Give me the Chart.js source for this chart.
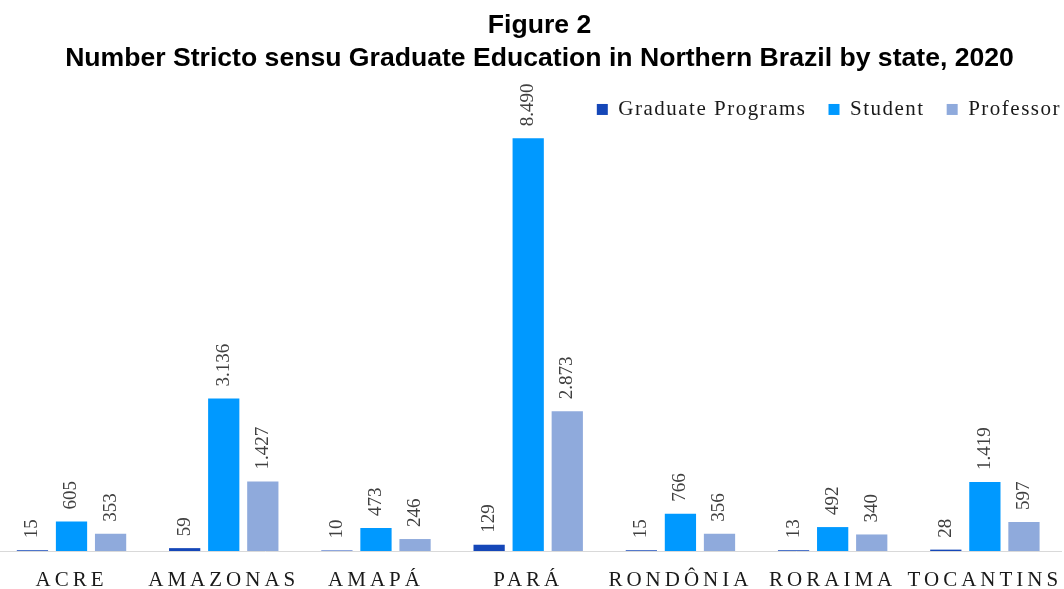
<!DOCTYPE html>
<html>
<head>
<meta charset="utf-8">
<script src="https://cdn.jsdelivr.net/npm/chart.js@4/dist/chart.umd.min.js"></script>
<style>
html,body{margin:0;padding:0;background:#fff;}
#wrap{width:1064px;height:589px;position:relative;}
</style>
</head>
<body>
<div id="wrap"><canvas id="c" width="1064" height="589"></canvas></div>
<script>
const categories = ['ACRE','AMAZONAS','AMAPÁ','PARÁ','RONDÔNIA','RORAIMA','TOCANTINS'];
const graduatePrograms = [15, 59, 10, 129, 15, 13, 28];
const students = [605, 3136, 473, 8490, 766, 492, 1419];
const professors = [353, 1427, 246, 2873, 356, 340, 597];
const seriesNames = ['Graduate Programs','Student','Professor'];
const titleLines = ['Figure 2','Number Stricto sensu Graduate Education in Northern Brazil by state, 2020'];

function fmt(v){ return String(v).replace(/\B(?=(\d{3})+(?!\d))/g,'.'); }

// category axis with letter-spaced labels and slightly extended left start
class SpacedCategoryScale extends Chart.CategoryScale {
  configure(){
    super.configure();
    const start = this.left - 4.6;
    this._startPixel = start;
    this._length = this._endPixel - start;
  }
  drawLabels(area){
    const ctx = this.ctx;
    ctx.save();
    ctx.letterSpacing = '4px';
    super.drawLabels(area);
    ctx.restore();
  }
}
SpacedCategoryScale.id = 'spacedCategory';
SpacedCategoryScale.defaults = Chart.CategoryScale.defaults;
Chart.register(SpacedCategoryScale);

// legend letter spacing and small placement shift
const LegendEl = Chart.Legend._element;
const oFit = LegendEl.prototype.fit, oDraw = LegendEl.prototype.draw;
LegendEl.prototype.fit = function(){ this.ctx.save(); this.ctx.letterSpacing='1.5px'; const r = oFit.apply(this, arguments); this.ctx.restore(); return r; };
LegendEl.prototype.draw = function(){ this.ctx.save(); this.ctx.letterSpacing='1.5px'; this.ctx.translate(22, 2); const r = oDraw.apply(this, arguments); this.ctx.restore(); return r; };

// title slightly right of canvas centre, as in the reference
const TitleEl = Chart.Title._element;
const oTDraw = TitleEl.prototype.draw;
TitleEl.prototype.draw = function(){ this.ctx.save(); this.ctx.translate(9, 0); const r = oTDraw.apply(this, arguments); this.ctx.restore(); return r; };

const valueLabels = {
  id:'valueLabels',
  afterDatasetsDraw(chart){
    const ctx = chart.ctx;
    ctx.save();
    ctx.font = '19px "Liberation Serif"';
    ctx.fillStyle = '#404040';
    ctx.textAlign = 'left';
    ctx.textBaseline = 'middle';
    chart.data.datasets.forEach((ds, i) => {
      const meta = chart.getDatasetMeta(i);
      meta.data.forEach((bar, j) => {
        ctx.save();
        ctx.translate(bar.x, bar.y - 12);
        ctx.rotate(-Math.PI/2);
        ctx.fillText(fmt(ds.data[j]), 0, 0);
        ctx.restore();
      });
    });
    ctx.restore();
  }
};

new Chart(document.getElementById('c'), {
  type: 'bar',
  data: {
    labels: categories,
    datasets: [
      { label: seriesNames[0], data: graduatePrograms, backgroundColor: '#1547B8' },
      { label: seriesNames[1], data: students, backgroundColor: '#0099FF' },
      { label: seriesNames[2], data: professors, backgroundColor: '#8FAADC' }
    ]
  },
  options: {
    responsive: false,
    animation: false,
    layout: { padding: { left: 0, right: 3, top: 0, bottom: 0 } },
    datasets: { bar: { categoryPercentage: 0.77, barPercentage: 0.8 } },
    plugins: {
      title: {
        display: true,
        text: titleLines,
        color: '#000',
        font: { family: '"Liberation Sans"', size: 26.6, weight: 'bold', lineHeight: 1.24 },
        padding: { top: 9, bottom: 0 }
      },
      legend: {
        position: 'top',
        align: 'end',
        labels: {
          boxWidth: 11, boxHeight: 11,
          color: '#1a1a1a',
          padding: 22,
          font: { family: '"Liberation Serif"', size: 21 }
        }
      },
      tooltip: { enabled: false }
    },
    scales: {
      x: {
        type: 'spacedCategory',
        grid: { display: false, drawTicks: false },
        border: { display: true, color: '#D9D9D9', width: 1 },
        ticks: { color: '#1a1a1a', padding: 19, font: { family: '"Liberation Serif"', size: 21, lineHeight: 1 }, maxRotation: 0, autoSkip: false },
        afterFit(scale){ scale.height = 38; }
      },
      y: {
        display: false,
        min: 0, max: 8700,
        grid: { display: false }
      }
    }
  },
  plugins: [valueLabels]
});
</script>
</body>
</html>
